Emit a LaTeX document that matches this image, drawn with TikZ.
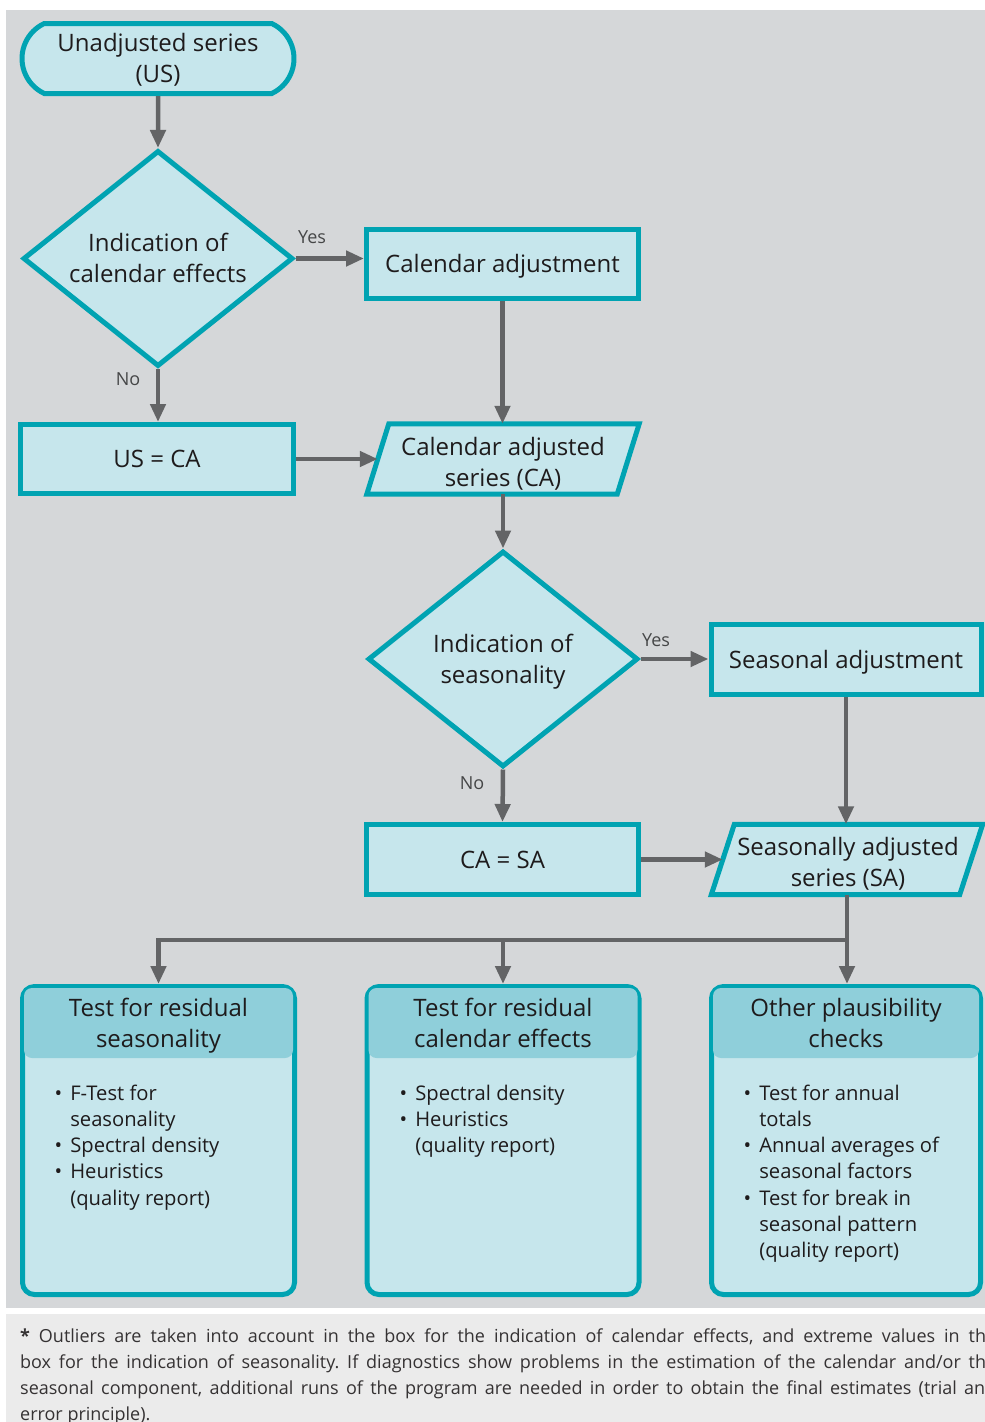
\documentclass[tikz,border=0pt]{standalone}
\usepackage{fontspec}
\setmainfont{Open Sans}
\usetikzlibrary{shapes.geometric,shapes.misc,arrows.meta}
\definecolor{bg}{HTML}{D5D7D9}
\definecolor{fnbg}{HTML}{EBEBEB}
\definecolor{boxfill}{HTML}{C6E6EC}
\definecolor{boxline}{HTML}{00A3B2}
\definecolor{hdr}{HTML}{8FCFDA}
\definecolor{arr}{HTML}{636466}
\definecolor{txt}{HTML}{1E1B1C}
\newcommand{\boxfont}{\fontsize{24}{31}\selectfont}
\newcommand{\itemfont}{\fontsize{20.2}{26.3}\selectfont}
\newcommand{\lblfont}{\fontsize{18}{20}\selectfont}
\newcommand{\fnfont}{\fontsize{18}{25.7}\selectfont}
\newcommand{\fnline}[1]{\makebox[976pt][s]{#1}}
\newcommand{\vt}{\rule{0pt}{0.97em}}
\newcommand{\vb}{\rule[-0.24em]{0pt}{0.24em}}
\frenchspacing
\tikzset{
  box/.style={draw=boxline, line width=5pt, fill=boxfill, text=txt, font=\boxfont, align=center, inner sep=0pt},
  decision/.style={box, diamond, aspect=1.3, minimum width=270pt, minimum height=216pt},
  ghost/.style={text=txt, font=\boxfont, align=center, inner sep=0pt},
  para/.style={draw=boxline, line width=5pt, fill=boxfill},
  flow/.style={draw=arr, line width=4.5pt, -{Triangle[length=18pt,width=15pt]}},
  lbl/.style={text=arr!70!black, font=\lblfont, inner sep=0pt},
  items/.style={text=txt, font=\itemfont, inner sep=0pt, anchor=base west, align=left},
  hdrtext/.style={text=txt, font=\boxfont, align=center, inner sep=0pt},
}
\begin{document}
\begin{tikzpicture}[x=1pt,y=-1pt]
\useasboundingbox (0,0) rectangle (985,1422);
\fill[white] (0,0) rectangle (985,1422);
\fill[bg] (6,10) rectangle (985,1308);
\fill[fnbg] (6,1314) rectangle (985,1422);

% terminal
\node[box, rounded rectangle, rounded rectangle arc length=130, minimum width=272pt, minimum height=70pt] (us) at (158,58.5) {\vt Unadjusted series\\(US)\vb};
% decision 1
\node[decision] (d1) at (158,258.5) {\vt Indication of\\calendar effects\vb};
\node[box, minimum width=272pt, minimum height=69pt] (cal) at (502.5,264) {\vt Calendar adjustment\vb};
\node[box, minimum width=273pt, minimum height=69pt] (usca) at (157,459) {\vt US = CA\vb};
% parallelogram CA
\node[minimum width=250pt, minimum height=70pt, inner sep=0pt] (ca) at (503,459) {};
\draw[para] ([xshift=11pt]ca.north west) -- ([xshift=11pt]ca.north east) -- ([xshift=-11pt]ca.south east) -- ([xshift=-11pt]ca.south west) -- cycle;
\node[ghost] (catext) at (503,462) {\vt Calendar adjusted\\series (CA)\vb};
% decision 2
\node[decision] (d2) at (503,659) {\vt Indication of\\seasonality\vb};
\node[box, minimum width=270pt, minimum height=70pt] (sadj) at (846,659.5) {\vt Seasonal adjustment\vb};
\node[box, minimum width=272pt, minimum height=70pt] (casa) at (502.5,859.5) {\vt CA = SA\vb};
% parallelogram SA
\node[minimum width=248pt, minimum height=70pt, inner sep=0pt] (sa) at (847,859.5) {};
\draw[para] ([xshift=11.5pt]sa.north west) -- ([xshift=11.5pt]sa.north east) -- ([xshift=-11.5pt]sa.south east) -- ([xshift=-11.5pt]sa.south west) -- cycle;
\node[ghost] (satext) at (848,862) {\vt Seasonally adjusted\\series (SA)\vb};

% bottom boxes
\node[box, rounded corners=12pt, minimum width=272pt, minimum height=308pt] (b1) at (158.5,1140.5) {};
\node[box, rounded corners=12pt, minimum width=272pt, minimum height=308pt] (b2) at (503,1140.5) {};
\node[box, rounded corners=12pt, minimum width=269pt, minimum height=308pt] (b3) at (846,1140.5) {};
\foreach \b in {b1,b2,b3}{
  \fill[hdr, rounded corners=8pt] ([xshift=4pt,yshift=-4pt]\b.north west) rectangle ([xshift=-4pt]\b.east |- 0,1058);
}
\node[hdrtext] (h1) at (158.5,1023) {\vt Test for residual\\seasonality\vb};
\node[hdrtext] (h2) at (503,1023) {\vt Test for residual\\calendar effects\vb};
\node[hdrtext] (h3) at (846,1023) {\vt Other plausibility\\checks\vb};

\node[items] (i1) at (54.5,1100) {\begin{tabular}[t]{@{}l@{\hspace{8pt}}l@{}}\textbullet & F-Test for\\ & seasonality\\ \textbullet & Spectral density\\ \textbullet & Heuristics\\ & (quality report)\end{tabular}};
\node[items] (i2) at (399.5,1100) {\begin{tabular}[t]{@{}l@{\hspace{8pt}}l@{}}\textbullet & Spectral density\\ \textbullet & Heuristics\\ & (quality report)\end{tabular}};
\node[items] (i3) at (743.5,1100) {\begin{tabular}[t]{@{}l@{\hspace{8pt}}l@{}}\textbullet & Test for annual\\ & totals\\ \textbullet & Annual averages of\\ & seasonal factors\\ \textbullet & Test for break in\\ & seasonal pattern\\ & (quality report)\end{tabular}};

% connectors
\draw[flow] (us) -- (d1);
\draw[flow] (d1.east) -- (d1.east -| cal.west);
\node[lbl] (yes1) at (312,237) {Yes};
\draw[flow] (d1.south) -- (d1.south |- usca.north);
\node[lbl] (no1) at (128,379) {No};
\draw[flow] (cal.south) -- (cal.south |- ca.north);
\draw[flow] (usca.east) -- (ca.west);
\draw[flow] (ca.south) -- (d2.north);
\draw[flow] (d2.east) -- (d2.east -| sadj.west);
\node[lbl] (yes2) at (656,640) {Yes};
\draw[flow] (d2.south) -- (casa.north);
\node[lbl] (no2) at (472,783) {No};
\draw[flow] (sadj.south) -- (sadj.south |- sa.north);
\draw[flow] (casa.east) -- (sa.west);
\coordinate (j3) at (847,940);
\coordinate (j2) at (503,940);
\draw[flow] (sa.south) -- (b3.north -| sa.south);
\draw[flow] (j3) -| (b1.north);
\draw[flow] (j2) -- (b2.north);

% footnote
\node[anchor=north west, inner sep=0pt, align=left, font=\fnfont, text=txt!90!white] (fn) at (20,1329) {%
\fnline{\textbf{*} Outliers are taken into account in the box for the indication of calendar effects, and extreme values in the}\\
\fnline{box for the indication of seasonality. If diagnostics show problems in the estimation of the calendar and/or the}\\
\fnline{seasonal component, additional runs of the program are needed in order to obtain the final estimates (trial and}\\
error principle).};
\end{tikzpicture}
\end{document}
